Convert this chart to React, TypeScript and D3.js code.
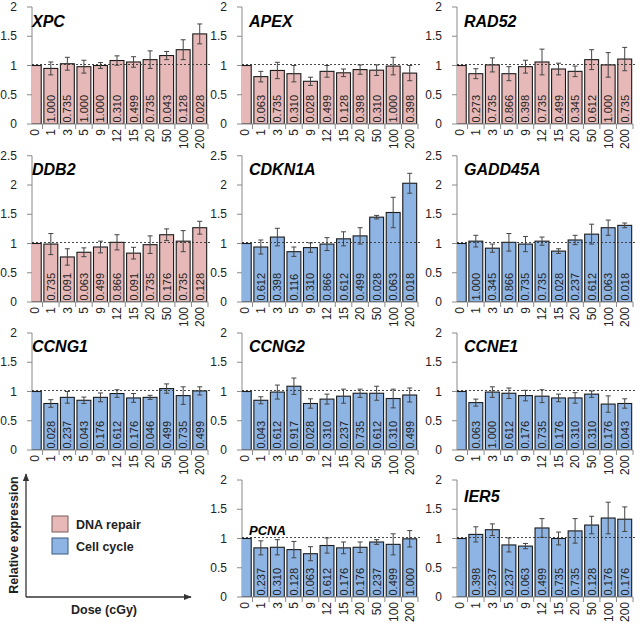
import React from 'react';
import * as d3 from 'd3';

const doses = ['0', '1', '3', '5', '9', '12', '15', '20', '50', '100', '200'];
const categories = ['DNA repair', 'Cell cycle'];
const categoryColors = ['#E6B9B8', '#8EB4E3'];

const geneNames = ['XPC', 'APEX', 'RAD52', 'DDB2', 'CDKN1A', 'GADD45A', 'CCNG1', 'CCNG2', 'CCNE1', 'PCNA', 'IER5'];
const geneCategory = [0, 0, 0, 0, 1, 1, 1, 1, 1, 1, 1];
const geneYMax = [2, 2, 2, 2.5, 2.5, 2.5, 2, 2, 2, 2, 2];

const xpcMean = [1, 0.95, 1.03, 0.98, 1.0, 1.085, 1.06, 1.10, 1.17, 1.27, 1.54];
const xpcErr = [0, 0.11, 0.11, 0.11, 0.05, 0.08, 0.09, 0.15, 0.07, 0.17, 0.17];
const xpcP = ['1.000', '0.735', '1.000', '1.000', '0.310', '0.499', '0.735', '0.043', '0.128', '0.028'];

const apexMean = [1, 0.81, 0.915, 0.86, 0.73, 0.90, 0.875, 0.93, 0.92, 0.99, 0.87];
const apexErr = [0, 0.09, 0.14, 0.14, 0.07, 0.1, 0.065, 0.08, 0.09, 0.15, 0.13];
const apexP = ['0.063', '0.735', '0.310', '0.028', '0.499', '0.128', '0.398', '0.310', '1.000', '0.398'];

const rad52Mean = [1, 0.86, 1.01, 0.86, 0.98, 1.06, 0.94, 0.90, 1.10, 1.01, 1.11];
const rad52Err = [0, 0.085, 0.12, 0.12, 0.11, 0.22, 0.1, 0.09, 0.17, 0.21, 0.2];
const rad52P = ['0.273', '0.735', '0.866', '0.398', '0.735', '0.499', '0.345', '0.612', '1.000', '0.735'];

const ddb2Mean = [1, 0.99, 0.77, 0.85, 0.94, 1.02, 0.835, 0.98, 1.15, 1.04, 1.27];
const ddb2Err = [0, 0.18, 0.14, 0.075, 0.1, 0.13, 0.1, 0.15, 0.1, 0.18, 0.11];
const ddb2P = ['0.735', '0.091', '0.063', '0.499', '0.866', '0.091', '0.735', '0.176', '0.735', '0.128'];

const cdkn1aMean = [1, 0.94, 1.11, 0.86, 0.93, 0.99, 1.08, 1.13, 1.45, 1.53, 2.03];
const cdkn1aErr = [0, 0.12, 0.15, 0.08, 0.08, 0.11, 0.12, 0.14, 0.03, 0.26, 0.17];
const cdkn1aP = ['0.612', '0.398', '0.116', '0.310', '0.866', '0.612', '0.499', '0.028', '0.063', '0.018'];

const gadd45aMean = [1, 1.04, 0.92, 1.02, 0.99, 1.04, 0.87, 1.06, 1.16, 1.27, 1.31];
const gadd45aErr = [0, 0.1, 0.07, 0.15, 0.13, 0.07, 0.04, 0.08, 0.17, 0.13, 0.04];
const gadd45aP = ['1.000', '0.345', '0.866', '0.735', '0.735', '0.028', '0.237', '0.612', '0.063', '0.018'];

const ccng1Mean = [1, 0.795, 0.90, 0.85, 0.90, 0.965, 0.89, 0.90, 1.05, 0.93, 1.01];
const ccng1Err = [0, 0.065, 0.1, 0.055, 0.075, 0.065, 0.075, 0.035, 0.08, 0.15, 0.07];
const ccng1P = ['0.028', '0.237', '0.043', '0.176', '0.612', '0.176', '0.046', '0.499', '0.735', '0.499'];

const ccng2Mean = [1, 0.85, 0.99, 1.09, 0.795, 0.87, 0.92, 0.97, 0.97, 0.88, 0.94];
const ccng2Err = [0, 0.06, 0.12, 0.14, 0.08, 0.085, 0.12, 0.07, 0.12, 0.16, 0.12];
const ccng2P = ['0.043', '0.612', '0.917', '0.028', '0.310', '0.237', '0.735', '0.612', '0.310', '0.499'];

const ccne1Mean = [1, 0.81, 0.99, 0.97, 0.93, 0.92, 0.89, 0.89, 0.955, 0.785, 0.795];
const ccne1Err = [0, 0.06, 0.09, 0.09, 0.09, 0.11, 0.065, 0.09, 0.055, 0.14, 0.08];
const ccne1P = ['0.063', '1.000', '0.612', '0.176', '0.735', '0.176', '0.310', '0.310', '0.176', '0.043'];

const pcnaMean = [1, 0.84, 0.85, 0.81, 0.74, 0.88, 0.84, 0.85, 0.94, 0.90, 0.995];
const pcnaErr = [0, 0.12, 0.13, 0.14, 0.12, 0.13, 0.1, 0.09, 0.04, 0.18, 0.14];
const pcnaP = ['0.237', '0.310', '0.128', '0.063', '0.612', '0.176', '0.176', '0.237', '0.499', '1.000'];

const ier5Mean = [1, 1.07, 1.15, 0.89, 0.87, 1.18, 1.0, 1.13, 1.23, 1.35, 1.33];
const ier5Err = [0, 0.13, 0.1, 0.12, 0.045, 0.16, 0.11, 0.21, 0.15, 0.27, 0.21];
const ier5P = ['0.398', '0.237', '0.237', '0.063', '0.499', '0.735', '0.735', '0.128', '0.176', '0.176'];

const geneMeans = [xpcMean, apexMean, rad52Mean, ddb2Mean, cdkn1aMean, gadd45aMean, ccng1Mean, ccng2Mean, ccne1Mean, pcnaMean, ier5Mean];
const geneErrs = [xpcErr, apexErr, rad52Err, ddb2Err, cdkn1aErr, gadd45aErr, ccng1Err, ccng2Err, ccne1Err, pcnaErr, ier5Err];
const geneP = [xpcP, apexP, rad52P, ddb2P, cdkn1aP, gadd45aP, ccng1P, ccng2P, ccne1P, pcnaP, ier5P];

// layout (not data)
const panelRow = [0, 0, 0, 1, 1, 1, 2, 2, 2, 3, 3];
const panelCol = [0, 1, 2, 0, 1, 2, 0, 1, 2, 1, 2];
const colAxisX = [32, 242, 457];
const rowBase = [124, 302, 450, 597];
const pxPerUnit = 58.5;
const titleSize = [16, 16, 16, 16, 16, 16, 16, 16, 16, 13, 16];
const titleDy = [20, 20, 20, 19, 19, 19, 19, 19, 19, 55, 22];

const FONT = '"Liberation Sans", Arial, sans-serif';

function Panel({ idx }: { idx: number }) {
  const ax = colAxisX[panelCol[idx]];
  const y0 = rowBase[panelRow[idx]];
  const yMax = geneYMax[idx];
  const y = d3.scaleLinear().domain([0, yMax]).range([y0, y0 - pxPerUnit * yMax]);
  const x = d3.scaleBand<string>().domain(doses).range([ax - 6, ax + 176]).paddingInner(0.16).paddingOuter(0.08);
  const step = x.step();
  const bw = x.bandwidth();
  const right = ax + 176;
  const ticks = d3.range(0, yMax + 0.001, 0.5);
  const means = geneMeans[idx];
  const errs = geneErrs[idx];
  const ps = geneP[idx];
  const fill = categoryColors[geneCategory[idx]];
  const clipId = `clip${idx}`;
  const col = panelCol[idx];
  return (
    <g>
      <defs>
        <clipPath id={clipId}>
          <rect x={ax} y={y(yMax) - 10} width={200} height={y0 - y(yMax) + 10} />
        </clipPath>
      </defs>
      {/* y axis */}
      <line x1={ax} x2={ax} y1={y0} y2={y(yMax)} stroke="#8a8a8a" strokeWidth={1} />
      {ticks.map((t) => (
        <g key={t}>
          <line x1={ax - 5} x2={ax} y1={y(t)} y2={y(t)} stroke="#8a8a8a" />
          <text x={ax - 15} y={y(t)} dy="0.35em" textAnchor="end" fontSize={12} fontFamily={FONT} fill="#222">
            {d3.format('~g')(t)}
          </text>
        </g>
      ))}
      {/* bars */}
      <g clipPath={`url(#${clipId})`}>
        {doses.map((d, i) => (
          <rect key={d} x={x(d)} y={y(means[i])} width={bw} height={y0 - y(means[i])} fill={fill} stroke="#1a1a1a" strokeWidth={1.1} />
        ))}
      </g>
      {/* error bars */}
      {doses.map((d, i) =>
        errs[i] > 0 ? (
          <g key={d} stroke="#444" strokeWidth={1}>
            <line x1={(x(d) as number) + bw / 2} x2={(x(d) as number) + bw / 2} y1={y(means[i] - errs[i])} y2={y(means[i] + errs[i])} />
            <line x1={(x(d) as number) + bw / 2 - 2.5} x2={(x(d) as number) + bw / 2 + 2.5} y1={y(means[i] + errs[i])} y2={y(means[i] + errs[i])} />
            <line x1={(x(d) as number) + bw / 2 - 2.5} x2={(x(d) as number) + bw / 2 + 2.5} y1={y(means[i] - errs[i])} y2={y(means[i] - errs[i])} />
          </g>
        ) : null
      )}
      {/* dashed reference */}
      <line x1={ax} x2={ax + 180} y1={y(1) - 1} y2={y(1) - 1} stroke="#333" strokeWidth={0.9} strokeDasharray="2,2" />
      {/* p-values */}
      {ps.map((p, j) => {
        const d = doses[j + 1];
        const cx = (x(d) as number) + bw / 2;
        return (
          <text key={d} transform={`translate(${cx},${y0 - 1.5}) rotate(-90)`} dy="0.36em" textAnchor="start" fontSize={11} fontFamily={FONT} fill="#222">
            {p}
          </text>
        );
      })}
      {/* x axis */}
      <line x1={ax} x2={right} y1={y0} y2={y0} stroke="#8a8a8a" />
      {doses.map((d) => (
        <line key={d} x1={(x(d) as number) + bw / 2 + step / 2} x2={(x(d) as number) + bw / 2 + step / 2} y1={y0} y2={y0 + 5} stroke="#8a8a8a" />
      ))}
      {doses.map((d) => (
        <text key={d} transform={`translate(${(x(d) as number) + bw / 2},${y0 + 5}) rotate(-90)`} dy="0.36em" textAnchor="end" fontSize={12} fontFamily={FONT} fill="#222">
          {d}
        </text>
      ))}
      {/* title */}
      <text x={ax + (col === 0 ? 0 : 7)} y={y(yMax) + titleDy[idx]} fontSize={titleSize[idx]} fontWeight="bold" fontStyle="italic" fontFamily={FONT} fill="#000">
        {geneNames[idx]}
      </text>
    </g>
  );
}

function Legend() {
  return (
    <g>
      <defs>
        <marker id="arrow" viewBox="0 0 10 10" refX="9" refY="5" markerWidth="6" markerHeight="6" orient="auto">
          <path d="M0,1 L10,5 L0,9 z" fill="#333" />
        </marker>
      </defs>
      <line x1={26} x2={26} y1={597} y2={474} stroke="#333" strokeWidth={1.3} markerEnd="url(#arrow)" />
      <line x1={26} x2={191} y1={597} y2={597} stroke="#333" strokeWidth={1.3} markerEnd="url(#arrow)" />
      <text transform="translate(13,535) rotate(-90)" dy="0.36em" textAnchor="middle" fontSize={12.5} fontWeight="bold" fontFamily={FONT} fill="#222">
        Relative expression
      </text>
      <text x={104} y={614} textAnchor="middle" fontSize={12.5} fontWeight="bold" fontFamily={FONT} fill="#222">
        Dose (cGy)
      </text>
      {categories.map((c, i) => (
        <g key={c}>
          <rect x={52} y={516 + i * 22} width={16} height={16} fill={categoryColors[i]} stroke={i === 0 ? '#7a5a5a' : '#3a5a80'} strokeWidth={1} />
          <text x={76} y={524 + i * 22} dy="0.36em" fontSize={12.5} fontWeight="bold" fontFamily={FONT} fill="#222">
            {c}
          </text>
        </g>
      ))}
    </g>
  );
}

export default function App() {
  return (
    <svg width={640} height={625} style={{ position: 'absolute', left: 0, top: 0, background: '#fff' }}>
      <rect width={640} height={625} fill="#fff" />
      {geneNames.map((g, i) => (
        <Panel key={g} idx={i} />
      ))}
      <Legend />
    </svg>
  );
}
